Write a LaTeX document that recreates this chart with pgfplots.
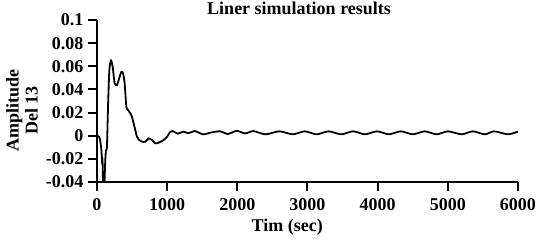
\documentclass[border=0pt]{standalone}
\usepackage{fontspec}
\setmainfont{Liberation Serif}
\usepackage{pgfplots}
\pgfplotsset{compat=1.18}
\begin{document}
\begin{tikzpicture}
\begin{axis}[
  at={(0,0)}, anchor=south west,
  scale only axis, width=421bp, height=162bp,
  xmin=0, xmax=6000, ymin=-0.04, ymax=0.1,
  axis x line*=bottom, axis y line*=left,
  axis line style={line width=2.4bp},
  tick align=outside, major tick length=9bp,
  tick style={line width=2bp, black},
  xtick={0,1000,2000,3000,4000,5000,6000},
  xticklabels={0,1000,2000,3000,4000,5000,6000},
  ytick={-0.04,-0.02,0,0.02,0.04,0.06,0.08,0.1},
  yticklabels={-0.04,-0.02,0,0.02,0.04,0.06,0.08,0.1},
  ticklabel style={font=\fontsize{18bp}{20bp}\selectfont\bfseries},
  xticklabel style={yshift=-4bp},
  yticklabel style={xshift=-1bp},
  xlabel={Tim (sec)},
  xlabel style={font=\fontsize{18bp}{20bp}\selectfont\bfseries, at={(axis description cs:0.452,-0.28)}, anchor=center},
  ylabel={Amplitude\\Del 13},
  ylabel style={font=\fontsize{18bp}{19bp}\selectfont\bfseries, align=center, at={(axis description cs:-0.178,0.44)}, anchor=center},
  title={Liner simulation results},
  title style={font=\fontsize{18bp}{20bp}\selectfont\bfseries, at={(axis description cs:0.48,1.034)}, anchor=center},
]
\addplot[black, line width=1.8bp, smooth, tension=0.4] coordinates {
(0,0) (30,-0.001) (45,-0.004) (62,-0.012) (72,-0.022) (78,-0.020) (85,-0.037)
(92,-0.048) (100,-0.048) (109,-0.037) (118,-0.021) (128,-0.0124) (142,-0.0095)
(157,0.025) (176,0.0568) (200,0.0650) (223,0.0596) (252,0.0453) (285,0.0438)
(309,0.0481) (347,0.0553) (371,0.0539) (394,0.0453) (418,0.0251) (442,0.0222)
(489,0.0179) (522,0.0107) (546,0.0049) (570,-0.0009) (603,-0.0037) (641,-0.0052)
(689,-0.0052) (736,-0.0023) (784,-0.0037) (831,-0.0066) (879,-0.0060) (950,-0.0037)
(998,-0.0009) (1045,0.0035) (1080,0.0040) (1150,0.0018) (1230,0.0035) (1301,0.0022)
(1396,0.0040) (1510,0.0012) (1630,0.0028) (1752,0.0038) (1866,0.0015) (1990,0.0042)
(2110,0.0020) (2230,0.0040) (2400,0.0012) (2600,0.0038) (2790,0.0012) (2960,0.0038)
(3130,0.0012) (3300,0.0038) (3480,0.0012) (3650,0.0038) (3820,0.0012) (3990,0.0038)
(4160,0.0012) (4330,0.0038) (4500,0.0012) (4670,0.0038) (4840,0.0012) (5000,0.0038)
(5197,0.0012) (5356,0.0038) (5527,0.0012) (5660,0.0038) (5855,0.0012) (6000,0.0035)
};
\end{axis}
\pgfresetboundingbox
\path[use as bounding box] (-97bp,-64bp) rectangle (439bp,182bp);
\end{tikzpicture}
\end{document}
